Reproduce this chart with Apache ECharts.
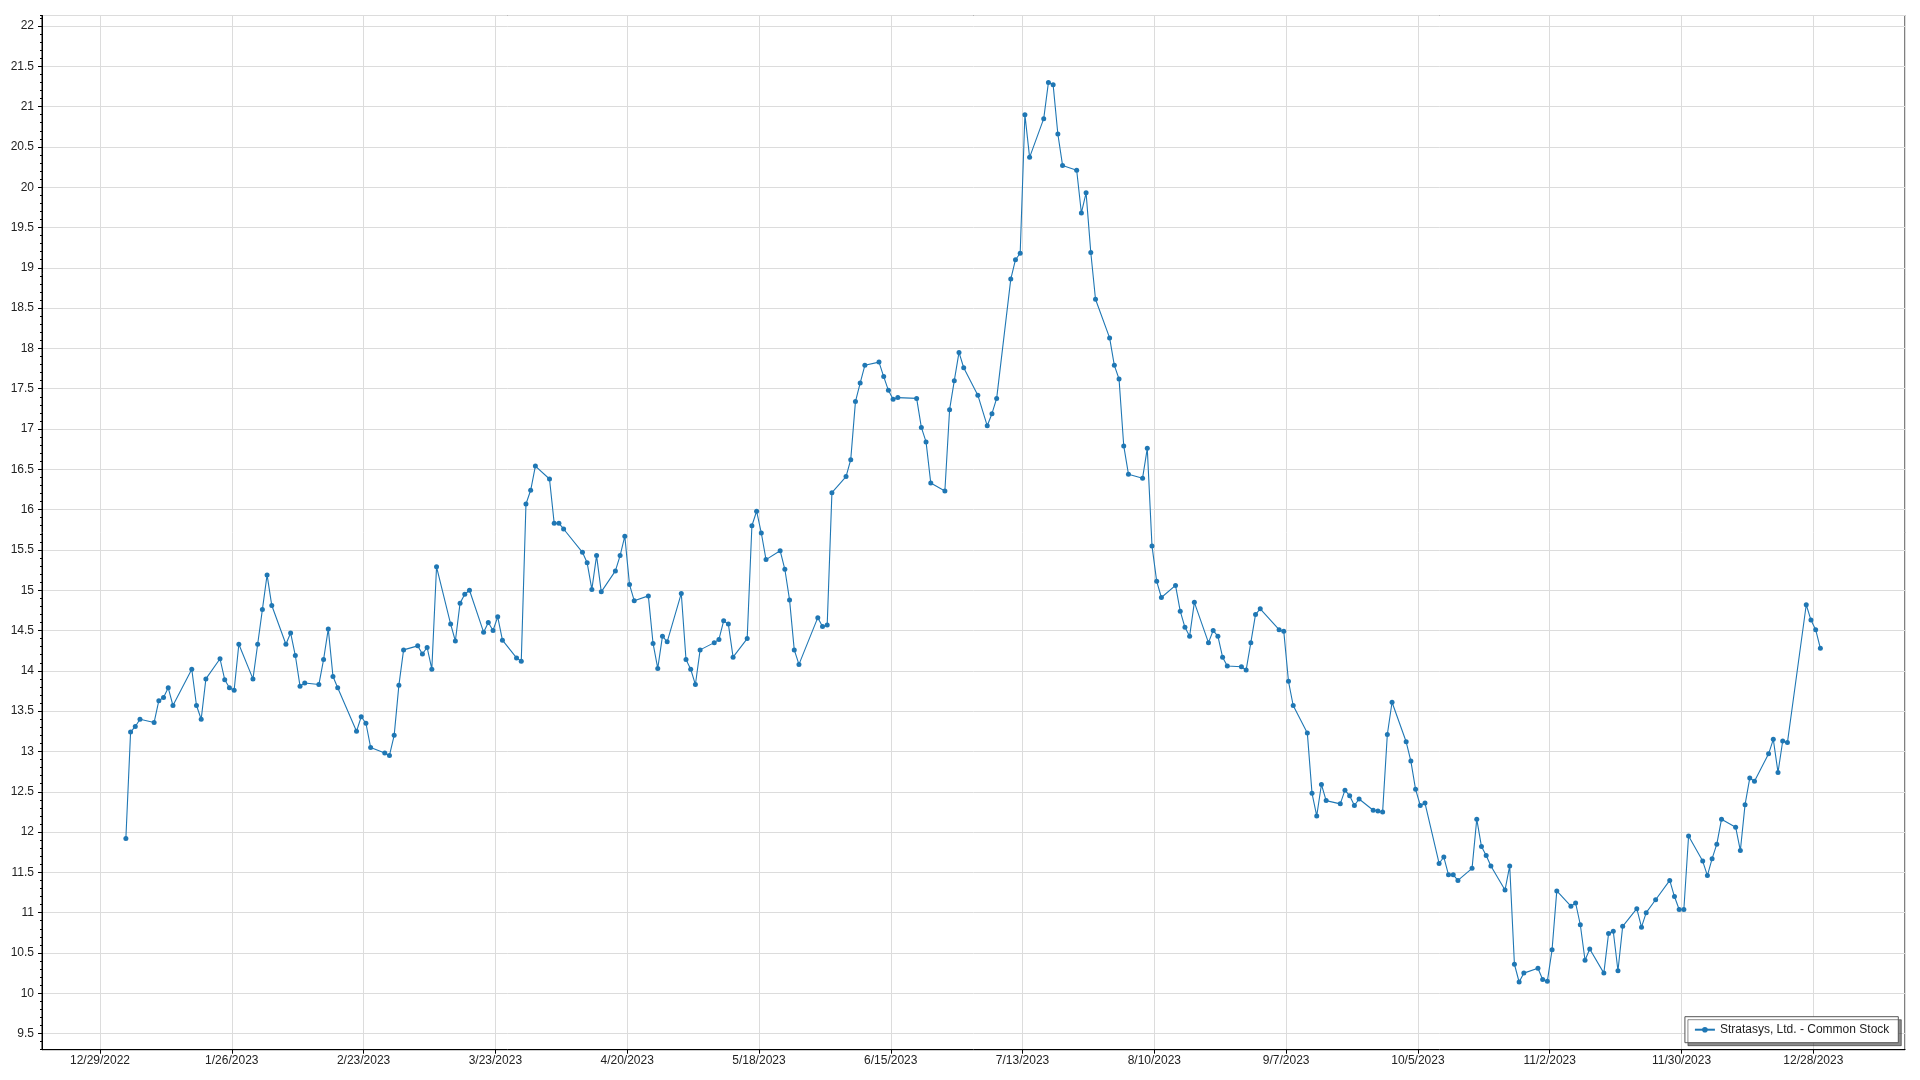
<!DOCTYPE html>
<html>
<head>
<meta charset="utf-8">
<script src="https://cdn.jsdelivr.net/npm/echarts@6/dist/echarts.min.js"></script>
<style>
html,body{margin:0;padding:0;background:#fff;}
#chart{width:1920px;height:1080px;}
</style>
</head>
<body>
<div id="chart"></div>
<script>
// ---- data ----
const seriesName = 'Stratasys, Ltd. - Common Stock';
const dates = [
'2023-01-03','2023-01-04','2023-01-05','2023-01-06','2023-01-09','2023-01-10','2023-01-11','2023-01-12','2023-01-13',
'2023-01-17','2023-01-18','2023-01-19','2023-01-20','2023-01-23','2023-01-24','2023-01-25','2023-01-26','2023-01-27',
'2023-01-30','2023-01-31','2023-02-01','2023-02-02','2023-02-03','2023-02-06','2023-02-07','2023-02-08','2023-02-09',
'2023-02-10','2023-02-13','2023-02-14','2023-02-15','2023-02-16','2023-02-17','2023-02-21','2023-02-22','2023-02-23',
'2023-02-24','2023-02-27','2023-02-28','2023-03-01','2023-03-02','2023-03-03','2023-03-06','2023-03-07','2023-03-08',
'2023-03-09','2023-03-10','2023-03-13','2023-03-14','2023-03-15','2023-03-16','2023-03-17','2023-03-20','2023-03-21',
'2023-03-22','2023-03-23','2023-03-24','2023-03-27','2023-03-28','2023-03-29','2023-03-30','2023-03-31','2023-04-03',
'2023-04-04','2023-04-05','2023-04-06','2023-04-10','2023-04-11','2023-04-12','2023-04-13','2023-04-14','2023-04-17',
'2023-04-18','2023-04-19','2023-04-20','2023-04-21','2023-04-24','2023-04-25','2023-04-26','2023-04-27','2023-04-28',
'2023-05-01','2023-05-02','2023-05-03','2023-05-04','2023-05-05','2023-05-08','2023-05-09','2023-05-10','2023-05-11',
'2023-05-12','2023-05-15','2023-05-16','2023-05-17','2023-05-18','2023-05-19','2023-05-22','2023-05-23','2023-05-24',
'2023-05-25','2023-05-26','2023-05-30','2023-05-31','2023-06-01','2023-06-02','2023-06-05','2023-06-06','2023-06-07',
'2023-06-08','2023-06-09','2023-06-12','2023-06-13','2023-06-14','2023-06-15','2023-06-16','2023-06-20','2023-06-21',
'2023-06-22','2023-06-23','2023-06-26','2023-06-27','2023-06-28','2023-06-29','2023-06-30','2023-07-03','2023-07-05',
'2023-07-06','2023-07-07','2023-07-10','2023-07-11','2023-07-12','2023-07-13','2023-07-14','2023-07-17','2023-07-18',
'2023-07-19','2023-07-20','2023-07-21','2023-07-24','2023-07-25','2023-07-26','2023-07-27','2023-07-28','2023-07-31',
'2023-08-01','2023-08-02','2023-08-03','2023-08-04','2023-08-07','2023-08-08','2023-08-09','2023-08-10','2023-08-11',
'2023-08-14','2023-08-15','2023-08-16','2023-08-17','2023-08-18','2023-08-21','2023-08-22','2023-08-23','2023-08-24',
'2023-08-25','2023-08-28','2023-08-29','2023-08-30','2023-08-31','2023-09-01','2023-09-05','2023-09-06','2023-09-07',
'2023-09-08','2023-09-11','2023-09-12','2023-09-13','2023-09-14','2023-09-15','2023-09-18','2023-09-19','2023-09-20',
'2023-09-21','2023-09-22','2023-09-25','2023-09-26','2023-09-27','2023-09-28','2023-09-29','2023-10-02','2023-10-03',
'2023-10-04','2023-10-05','2023-10-06','2023-10-09','2023-10-10','2023-10-11','2023-10-12','2023-10-13','2023-10-16',
'2023-10-17','2023-10-18','2023-10-19','2023-10-20','2023-10-23','2023-10-24','2023-10-25','2023-10-26','2023-10-27',
'2023-10-30','2023-10-31','2023-11-01','2023-11-02','2023-11-03','2023-11-06','2023-11-07','2023-11-08','2023-11-09',
'2023-11-10','2023-11-13','2023-11-14','2023-11-15','2023-11-16','2023-11-17','2023-11-20','2023-11-21','2023-11-22',
'2023-11-24','2023-11-27','2023-11-28','2023-11-29','2023-11-30','2023-12-01','2023-12-04','2023-12-05','2023-12-06',
'2023-12-07','2023-12-08','2023-12-11','2023-12-12','2023-12-13','2023-12-14','2023-12-15','2023-12-18','2023-12-19',
'2023-12-20','2023-12-21','2023-12-22','2023-12-26','2023-12-27','2023-12-28','2023-12-29'
];
const prices = [
11.92,13.24,13.31,13.40,13.36,13.63,13.67,13.79,13.57,
14.02,13.57,13.40,13.90,14.15,13.89,13.79,13.76,14.33,
13.90,14.33,14.76,15.19,14.81,14.33,14.47,14.19,13.81,
13.85,13.83,14.14,14.52,13.93,13.79,13.25,13.43,13.35,
13.05,12.98,12.95,13.20,13.82,14.26,14.31,14.21,14.29,
14.02,15.29,14.58,14.37,14.84,14.95,15.00,14.48,14.60,
14.50,14.67,14.38,14.16,14.12,16.07,16.24,16.54,16.38,
15.83,15.83,15.76,15.47,15.34,15.01,15.43,14.98,15.24,
15.43,15.67,15.07,14.87,14.93,14.34,14.03,14.43,14.36,
14.96,14.14,14.02,13.83,14.26,14.35,14.39,14.62,14.58,
14.17,14.40,15.80,15.98,15.71,15.38,15.49,15.26,14.88,
14.26,14.08,14.66,14.55,14.57,16.21,16.41,16.62,17.34,
17.57,17.79,17.83,17.65,17.48,17.37,17.39,17.38,17.02,
16.84,16.33,16.23,17.24,17.60,17.95,17.76,17.42,17.04,
17.19,17.38,18.86,19.10,19.18,20.90,20.37,20.85,21.30,
21.27,20.66,20.27,20.21,19.68,19.93,19.19,18.61,18.13,
17.79,17.62,16.79,16.44,16.39,16.76,15.55,15.11,14.91,
15.06,14.74,14.54,14.43,14.85,14.35,14.50,14.43,14.17,
14.06,14.05,14.01,14.35,14.70,14.77,14.51,14.49,13.87,
13.57,13.23,12.48,12.20,12.59,12.39,12.35,12.52,12.45,
12.33,12.41,12.27,12.26,12.25,13.21,13.61,13.12,12.88,
12.53,12.33,12.36,11.61,11.69,11.47,11.47,11.40,11.55,
12.16,11.82,11.71,11.58,11.28,11.58,10.36,10.14,10.25,
10.31,10.17,10.15,10.54,11.27,11.08,11.12,10.85,10.41,
10.55,10.25,10.74,10.77,10.28,10.83,11.05,10.82,11.00,
11.16,11.40,11.20,11.04,11.04,11.95,11.64,11.46,11.67,
11.85,12.16,12.06,11.77,12.34,12.67,12.63,12.97,13.15,
12.74,13.13,13.11,14.82,14.63,14.51,14.28
];
// x-axis tick dates (every 28 days from 12/29/2022)
const xOriginDate = '2022-12-29';
const xTickStepDays = 28;
const yTickStep = 0.5;
const yMinorStep = 0.1;

// ---- build ----
const DAY = 86400000;
const origin = Date.parse(xOriginDate + 'T00:00:00Z');
const toDay = d => (Date.parse(d + 'T12:00:00Z') - origin) / DAY;
const seriesData = dates.map((d, i) => [toDay(d), prices[i]]);
const fmtDay = v => {
  const dt = new Date(origin + Math.round(v) * DAY);
  return (dt.getUTCMonth() + 1) + '/' + dt.getUTCDate() + '/' + dt.getUTCFullYear();
};

const xMin = -12.32, xMax = 383.48;
const yMin = 9.3, yMax = 22.13;
const FONT = '"Liberation Sans", Arial, sans-serif';

const chart = echarts.init(document.getElementById('chart'), null, {renderer: 'canvas'});
chart.setOption({
  backgroundColor: '#ffffff',
  animation: false,
  textStyle: {fontFamily: FONT},
  grid: {
    left: 42, right: 15, top: 15.5, bottom: 30.3,
    show: true, borderColor: '#000', borderWidth: 1, backgroundColor: 'transparent'
  },
  legend: {
    data: [seriesName],
    right: 21.7, bottom: 37.3,
    orient: 'horizontal',
    backgroundColor: '#fff',
    borderColor: '#555',
    borderWidth: 1,
    borderRadius: 0,
    padding: [7, 9, 7, 9],
    itemWidth: 20, itemHeight: 7,
    itemGap: 5,
    shadowColor: 'rgba(0,0,0,0.45)',
    shadowBlur: 0, shadowOffsetX: 3, shadowOffsetY: 3,
    textStyle: {fontFamily: FONT, fontSize: 12, color: '#222'}
  },
  xAxis: {
    type: 'value',
    min: xMin, max: xMax,
    minInterval: xTickStepDays, maxInterval: xTickStepDays,
    axisLine: {show: true, onZero: false, lineStyle: {color: '#000', width: 1}},
    axisTick: {show: true, length: 4, lineStyle: {color: '#000'}},
    axisLabel: {
      show: true, margin: 5, color: '#222', fontSize: 12, fontFamily: FONT,
      showMinLabel: false, showMaxLabel: false,
      formatter: v => fmtDay(v)
    },
    splitLine: {show: true, lineStyle: {color: '#dcdcdc', width: 1}}
  },
  yAxis: [{
    type: 'value',
    position: 'left',
    min: yMin, max: yMax,
    minInterval: yTickStep, maxInterval: yTickStep,
    axisLine: {show: true, onZero: false, lineStyle: {color: '#000', width: 1}},
    axisTick: {show: true, length: 4, lineStyle: {color: '#000'}},
    axisLabel: {
      show: true, margin: 8, color: '#222', fontSize: 12, fontFamily: FONT,
      showMinLabel: false, showMaxLabel: false
    },
    splitLine: {show: true, lineStyle: {color: '#dcdcdc', width: 1}}
  }, {
    type: 'value',
    position: 'left',
    min: yMin, max: yMax,
    minInterval: yMinorStep, maxInterval: yMinorStep,
    axisLine: {show: false, onZero: false},
    axisTick: {show: true, length: 2, lineStyle: {color: '#000'}},
    axisLabel: {show: false},
    splitLine: {show: false}
  }],
  series: [{
    name: seriesName,
    type: 'line',
    xAxisIndex: 0, yAxisIndex: 0,
    data: seriesData,
    symbol: 'circle',
    symbolSize: 5,
    showSymbol: true,
    color: '#1f77b4',
    lineStyle: {color: '#1f77b4', width: 1.1},
    itemStyle: {color: '#1f77b4'}
  }]
});
</script>
</body>
</html>
